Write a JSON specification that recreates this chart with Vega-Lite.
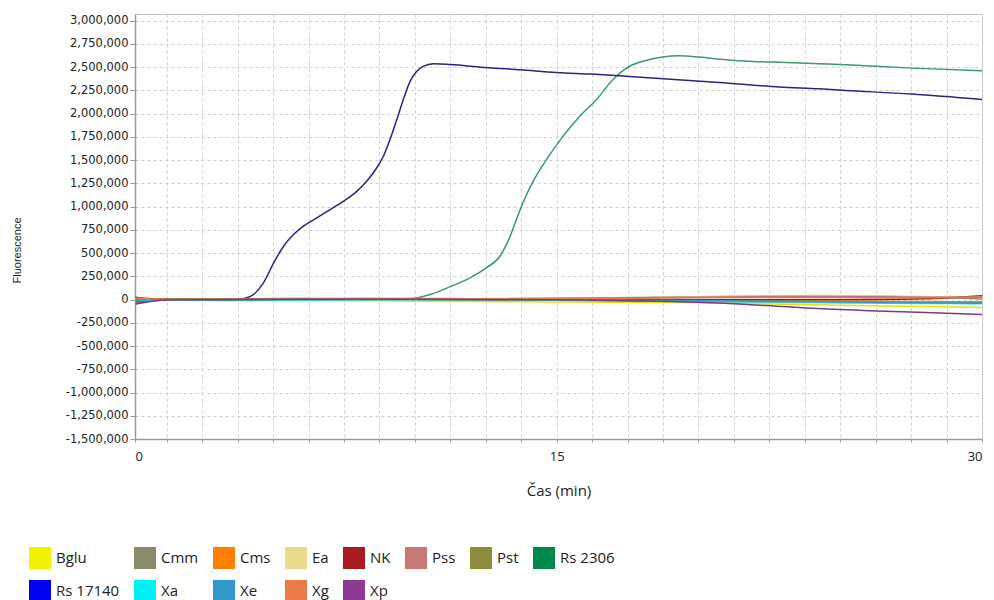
{
  "$schema": "https://vega.github.io/schema/vega-lite/v6.json",
  "autosize": {"type": "none"},
  "width": 847,
  "height": 425,
  "padding": {"left": 135, "top": 14, "right": 12, "bottom": 161},
  "background": "white",
  "config": {
    "view": {"stroke": "#C4C4C4", "strokeWidth": 1},
    "axis": {"gridDash": [3, 3], "gridColor": "#CFCFCF", "gridWidth": 1, "domainColor": "#9A9A9A", "domainWidth": 1.5, "tickColor": "#9A9A9A", "labelColor": "#222222", "titleColor": "#222222", "titleFontWeight": "normal"}
  },
  "data": {"values": [
    {"s":"Bglu","t":0.15,"v":-5000},{"s":"Bglu","t":0.6,"v":-3000},{"s":"Bglu","t":1.2,"v":-2000},{"s":"Bglu","t":2,"v":-3000},{"s":"Bglu","t":3,"v":-5000},{"s":"Bglu","t":4,"v":-6000},{"s":"Bglu","t":6,"v":-8000},{"s":"Bglu","t":8,"v":-12000},{"s":"Bglu","t":10,"v":-18000},{"s":"Bglu","t":12,"v":-22000},{"s":"Bglu","t":14,"v":-25000},{"s":"Bglu","t":16,"v":-28000},{"s":"Bglu","t":18,"v":-30000},{"s":"Bglu","t":20,"v":-35000},{"s":"Bglu","t":22,"v":-45000},{"s":"Bglu","t":24,"v":-56000},{"s":"Bglu","t":26,"v":-66000},{"s":"Bglu","t":28,"v":-75000},{"s":"Bglu","t":29,"v":-80000},{"s":"Bglu","t":30,"v":-85000},
    {"s":"Cmm","t":0.15,"v":-20000},{"s":"Cmm","t":0.6,"v":-8000},{"s":"Cmm","t":1.2,"v":-2000},{"s":"Cmm","t":2,"v":0},{"s":"Cmm","t":3,"v":2000},{"s":"Cmm","t":4,"v":3000},{"s":"Cmm","t":6,"v":5000},{"s":"Cmm","t":8,"v":6000},{"s":"Cmm","t":10,"v":6000},{"s":"Cmm","t":12,"v":8000},{"s":"Cmm","t":14,"v":10000},{"s":"Cmm","t":16,"v":15000},{"s":"Cmm","t":18,"v":22000},{"s":"Cmm","t":20,"v":30000},{"s":"Cmm","t":22,"v":36000},{"s":"Cmm","t":24,"v":38000},{"s":"Cmm","t":26,"v":35000},{"s":"Cmm","t":28,"v":25000},{"s":"Cmm","t":29,"v":15000},{"s":"Cmm","t":30,"v":5000},
    {"s":"Cms","t":0.15,"v":10000},{"s":"Cms","t":0.6,"v":5000},{"s":"Cms","t":1.2,"v":2000},{"s":"Cms","t":2,"v":0},{"s":"Cms","t":3,"v":0},{"s":"Cms","t":4,"v":2000},{"s":"Cms","t":6,"v":3000},{"s":"Cms","t":8,"v":2000},{"s":"Cms","t":10,"v":0},{"s":"Cms","t":12,"v":-2000},{"s":"Cms","t":14,"v":-5000},{"s":"Cms","t":16,"v":-8000},{"s":"Cms","t":18,"v":-10000},{"s":"Cms","t":20,"v":-12000},{"s":"Cms","t":22,"v":-15000},{"s":"Cms","t":24,"v":-18000},{"s":"Cms","t":26,"v":-20000},{"s":"Cms","t":28,"v":-22000},{"s":"Cms","t":29,"v":-23000},{"s":"Cms","t":30,"v":-25000},
    {"s":"Ea","t":0.15,"v":5000},{"s":"Ea","t":0.6,"v":3000},{"s":"Ea","t":1.2,"v":0},{"s":"Ea","t":2,"v":1000},{"s":"Ea","t":3,"v":2000},{"s":"Ea","t":4,"v":3000},{"s":"Ea","t":6,"v":3000},{"s":"Ea","t":8,"v":3000},{"s":"Ea","t":10,"v":2000},{"s":"Ea","t":12,"v":4000},{"s":"Ea","t":14,"v":8000},{"s":"Ea","t":16,"v":14000},{"s":"Ea","t":18,"v":22000},{"s":"Ea","t":20,"v":30000},{"s":"Ea","t":22,"v":38000},{"s":"Ea","t":24,"v":42000},{"s":"Ea","t":26,"v":40000},{"s":"Ea","t":28,"v":32000},{"s":"Ea","t":29,"v":26000},{"s":"Ea","t":30,"v":20000},
    {"s":"NK","t":0.15,"v":25000},{"s":"NK","t":0.6,"v":10000},{"s":"NK","t":1.2,"v":3000},{"s":"NK","t":2,"v":2000},{"s":"NK","t":3,"v":5000},{"s":"NK","t":4,"v":8000},{"s":"NK","t":6,"v":10000},{"s":"NK","t":8,"v":8000},{"s":"NK","t":10,"v":6000},{"s":"NK","t":12,"v":4000},{"s":"NK","t":14,"v":3000},{"s":"NK","t":16,"v":2000},{"s":"NK","t":18,"v":0},{"s":"NK","t":20,"v":-2000},{"s":"NK","t":22,"v":-3000},{"s":"NK","t":24,"v":-2000},{"s":"NK","t":26,"v":0},{"s":"NK","t":28,"v":8000},{"s":"NK","t":29,"v":22000},{"s":"NK","t":30,"v":40000},
    {"s":"Pss","t":0.15,"v":-35000},{"s":"Pss","t":0.6,"v":-15000},{"s":"Pss","t":1.2,"v":-3000},{"s":"Pss","t":2,"v":0},{"s":"Pss","t":3,"v":3000},{"s":"Pss","t":4,"v":5000},{"s":"Pss","t":6,"v":8000},{"s":"Pss","t":8,"v":10000},{"s":"Pss","t":10,"v":8000},{"s":"Pss","t":12,"v":6000},{"s":"Pss","t":14,"v":8000},{"s":"Pss","t":16,"v":12000},{"s":"Pss","t":18,"v":18000},{"s":"Pss","t":20,"v":25000},{"s":"Pss","t":22,"v":30000},{"s":"Pss","t":24,"v":32000},{"s":"Pss","t":26,"v":30000},{"s":"Pss","t":28,"v":25000},{"s":"Pss","t":29,"v":22000},{"s":"Pss","t":30,"v":20000},
    {"s":"Pst","t":0.15,"v":-45000},{"s":"Pst","t":0.6,"v":-20000},{"s":"Pst","t":1.2,"v":-5000},{"s":"Pst","t":2,"v":-2000},{"s":"Pst","t":3,"v":0},{"s":"Pst","t":4,"v":2000},{"s":"Pst","t":6,"v":4000},{"s":"Pst","t":8,"v":3000},{"s":"Pst","t":10,"v":0},{"s":"Pst","t":12,"v":-3000},{"s":"Pst","t":14,"v":-6000},{"s":"Pst","t":16,"v":-10000},{"s":"Pst","t":18,"v":-15000},{"s":"Pst","t":20,"v":-20000},{"s":"Pst","t":22,"v":-24000},{"s":"Pst","t":24,"v":-28000},{"s":"Pst","t":26,"v":-32000},{"s":"Pst","t":28,"v":-35000},{"s":"Pst","t":29,"v":-36000},{"s":"Pst","t":30,"v":-38000},
    {"s":"Rs 2306","t":0.15,"v":5000},{"s":"Rs 2306","t":0.6,"v":2000},{"s":"Rs 2306","t":1.2,"v":0},{"s":"Rs 2306","t":2,"v":2000},{"s":"Rs 2306","t":4,"v":3000},{"s":"Rs 2306","t":6,"v":5000},{"s":"Rs 2306","t":8,"v":5000},{"s":"Rs 2306","t":9.3,"v":6000},{"s":"Rs 2306","t":9.89,"v":10700},{"s":"Rs 2306","t":10.53,"v":53700},{"s":"Rs 2306","t":11.23,"v":136000},{"s":"Rs 2306","t":11.94,"v":233000},{"s":"Rs 2306","t":12.52,"v":340000},{"s":"Rs 2306","t":13.0,"v":465000},{"s":"Rs 2306","t":13.29,"v":630000},{"s":"Rs 2306","t":13.58,"v":859000},{"s":"Rs 2306","t":13.81,"v":1039000},{"s":"Rs 2306","t":14.17,"v":1271000},{"s":"Rs 2306","t":14.64,"v":1504000},{"s":"Rs 2306","t":15.22,"v":1754000},{"s":"Rs 2306","t":15.81,"v":1969000},{"s":"Rs 2306","t":16.4,"v":2148000},{"s":"Rs 2306","t":16.98,"v":2363000},{"s":"Rs 2306","t":17.57,"v":2508000},{"s":"Rs 2306","t":18.15,"v":2570000},{"s":"Rs 2306","t":18.74,"v":2607000},{"s":"Rs 2306","t":19.33,"v":2621000},{"s":"Rs 2306","t":20.03,"v":2607000},{"s":"Rs 2306","t":20.97,"v":2578000},{"s":"Rs 2306","t":21.91,"v":2560000},{"s":"Rs 2306","t":23.08,"v":2549000},{"s":"Rs 2306","t":24.25,"v":2535000},{"s":"Rs 2306","t":25.19,"v":2524000},{"s":"Rs 2306","t":27.54,"v":2488000},{"s":"Rs 2306","t":30,"v":2460000},
    {"s":"Rs 17140","t":0.15,"v":-15000},{"s":"Rs 17140","t":0.6,"v":-8000},{"s":"Rs 17140","t":1.2,"v":-3000},{"s":"Rs 17140","t":2,"v":-5000},{"s":"Rs 17140","t":3,"v":-8000},{"s":"Rs 17140","t":3.6,"v":-6000},{"s":"Rs 17140","t":3.96,"v":7500},{"s":"Rs 17140","t":4.31,"v":53700},{"s":"Rs 17140","t":4.66,"v":179000},{"s":"Rs 17140","t":5.02,"v":394000},{"s":"Rs 17140","t":5.37,"v":573000},{"s":"Rs 17140","t":5.72,"v":698000},{"s":"Rs 17140","t":6.07,"v":788000},{"s":"Rs 17140","t":6.54,"v":877000},{"s":"Rs 17140","t":7.01,"v":967000},{"s":"Rs 17140","t":7.48,"v":1056000},{"s":"Rs 17140","t":7.95,"v":1163000},{"s":"Rs 17140","t":8.3,"v":1271000},{"s":"Rs 17140","t":8.65,"v":1414000},{"s":"Rs 17140","t":8.89,"v":1540000},{"s":"Rs 17140","t":9.12,"v":1719000},{"s":"Rs 17140","t":9.36,"v":1933000},{"s":"Rs 17140","t":9.59,"v":2148000},{"s":"Rs 17140","t":9.83,"v":2345000},{"s":"Rs 17140","t":10.06,"v":2452000},{"s":"Rs 17140","t":10.29,"v":2506000},{"s":"Rs 17140","t":10.65,"v":2535000},{"s":"Rs 17140","t":11.12,"v":2531000},{"s":"Rs 17140","t":11.7,"v":2517000},{"s":"Rs 17140","t":12.49,"v":2495000},{"s":"Rs 17140","t":13.73,"v":2470000},{"s":"Rs 17140","t":14.99,"v":2441000},{"s":"Rs 17140","t":16.23,"v":2424000},{"s":"Rs 17140","t":17.57,"v":2399000},{"s":"Rs 17140","t":20.73,"v":2334000},{"s":"Rs 17140","t":22.85,"v":2285000},{"s":"Rs 17140","t":24.25,"v":2265000},{"s":"Rs 17140","t":25.19,"v":2248000},{"s":"Rs 17140","t":27.52,"v":2209000},{"s":"Rs 17140","t":30,"v":2150000},
    {"s":"Xa","t":0.15,"v":-10000},{"s":"Xa","t":0.6,"v":-8000},{"s":"Xa","t":1.2,"v":-5000},{"s":"Xa","t":2,"v":-6000},{"s":"Xa","t":3,"v":-10000},{"s":"Xa","t":4,"v":-12000},{"s":"Xa","t":6,"v":-8000},{"s":"Xa","t":8,"v":-5000},{"s":"Xa","t":10,"v":-3000},{"s":"Xa","t":12,"v":-2000},{"s":"Xa","t":14,"v":-4000},{"s":"Xa","t":16,"v":-8000},{"s":"Xa","t":18,"v":-14000},{"s":"Xa","t":20,"v":-20000},{"s":"Xa","t":22,"v":-26000},{"s":"Xa","t":24,"v":-32000},{"s":"Xa","t":26,"v":-38000},{"s":"Xa","t":28,"v":-42000},{"s":"Xa","t":29,"v":-44000},{"s":"Xa","t":30,"v":-46000},
    {"s":"Xe","t":0.15,"v":-5000},{"s":"Xe","t":0.6,"v":-3000},{"s":"Xe","t":1.2,"v":-1000},{"s":"Xe","t":2,"v":-2000},{"s":"Xe","t":3,"v":-3000},{"s":"Xe","t":4,"v":-2000},{"s":"Xe","t":6,"v":0},{"s":"Xe","t":8,"v":2000},{"s":"Xe","t":10,"v":3000},{"s":"Xe","t":12,"v":2000},{"s":"Xe","t":14,"v":0},{"s":"Xe","t":16,"v":-3000},{"s":"Xe","t":18,"v":-7000},{"s":"Xe","t":20,"v":-12000},{"s":"Xe","t":22,"v":-18000},{"s":"Xe","t":24,"v":-24000},{"s":"Xe","t":26,"v":-30000},{"s":"Xe","t":28,"v":-35000},{"s":"Xe","t":29,"v":-38000},{"s":"Xe","t":30,"v":-40000},
    {"s":"Xg","t":0.15,"v":15000},{"s":"Xg","t":0.6,"v":8000},{"s":"Xg","t":1.2,"v":3000},{"s":"Xg","t":2,"v":2000},{"s":"Xg","t":3,"v":3000},{"s":"Xg","t":4,"v":5000},{"s":"Xg","t":6,"v":8000},{"s":"Xg","t":8,"v":10000},{"s":"Xg","t":10,"v":10000},{"s":"Xg","t":12,"v":9000},{"s":"Xg","t":14,"v":10000},{"s":"Xg","t":16,"v":12000},{"s":"Xg","t":18,"v":16000},{"s":"Xg","t":20,"v":20000},{"s":"Xg","t":22,"v":22000},{"s":"Xg","t":24,"v":22000},{"s":"Xg","t":26,"v":20000},{"s":"Xg","t":28,"v":18000},{"s":"Xg","t":29,"v":24000},{"s":"Xg","t":30,"v":30000},
    {"s":"Xp","t":0.15,"v":-50000},{"s":"Xp","t":0.6,"v":-25000},{"s":"Xp","t":1.2,"v":-5000},{"s":"Xp","t":2,"v":-3000},{"s":"Xp","t":3,"v":-2000},{"s":"Xp","t":4,"v":0},{"s":"Xp","t":6,"v":2000},{"s":"Xp","t":8,"v":3000},{"s":"Xp","t":10,"v":2000},{"s":"Xp","t":12,"v":0},{"s":"Xp","t":14,"v":-2000},{"s":"Xp","t":16,"v":-5000},{"s":"Xp","t":18,"v":-15000},{"s":"Xp","t":20,"v":-30000},{"s":"Xp","t":22,"v":-58000},{"s":"Xp","t":24,"v":-95000},{"s":"Xp","t":26,"v":-120000},{"s":"Xp","t":28,"v":-140000},{"s":"Xp","t":29,"v":-150000},{"s":"Xp","t":30,"v":-160000}
  ]},
  "encoding": {
    "x": {"field": "t", "type": "quantitative",
      "scale": {"domain": [0.13, 30], "nice": false, "zero": false},
      "axis": {"title": "Čas (min)", "titleFont": "Open Sans", "titleFontSize": 15, "titleY": 51, "titleBaseline": "middle",
        "values": [0.13,1.25,2.5,3.75,5,6.25,7.5,8.75,10,11.25,12.5,13.75,15,16.25,17.5,18.75,20,21.25,22.5,23.75,25,26.25,27.5,28.75,30],
        "labelExpr": "datum.value < 1 ? '0' : (datum.value == 15 || datum.value == 30) ? format(datum.value, 'd') : ''",
        "labelFont": "Open Sans", "labelFontSize": 13, "tickSize": 3, "labelPadding": 8, "labelOverlap": false}},
    "y": {"field": "v", "type": "quantitative",
      "scale": {"domain": [-1500000, 3070000], "nice": false, "zero": false},
      "axis": {"title": "Fluorescence", "titleFont": "Liberation Sans", "titleFontSize": 11, "titleX": -118, "titleY": 236, "titleAngle": 270, "titleBaseline": "middle", "titleAlign": "center",
        "values": [-1500000,-1250000,-1000000,-750000,-500000,-250000,0,250000,500000,750000,1000000,1250000,1500000,1750000,2000000,2250000,2500000,2750000,3000000],
        "labelExpr": "replace(format(datum.value, ','), '\u2212', '-')",
        "labelFont": "DejaVu Sans", "labelFontSize": 11.5, "tickSize": 5, "labelPadding": 2, "labelOverlap": false}}
  },
  "layer": [
    {
      "mark": {"type": "line", "strokeWidth": 1.5, "interpolate": "monotone", "clip": true},
      "encoding": {
        "stroke": {"field": "s", "type": "nominal", "legend": null,
          "scale": {"domain": ["Bglu","Cmm","Cms","Ea","NK","Pss","Pst","Xa","Xe","Xg","Xp","Rs 2306","Rs 17140"],
            "range": ["#E4E400","#8A8A70","#FF8000","#E0D080","#9E1A1A","#C07070","#7E7E3A","#20E0E0","#3399CC","#E07848","#7A3A8A","#3A9A6A","#262686"]}}
      }
    },
    {
      "transform": [{"filter": "datum.t == 0.15"}],
      "mark": {"type": "point", "filled": true, "opacity": 0, "shape": "square"},
      "encoding": {
        "fill": {"field": "s", "type": "nominal",
          "scale": {"domain": ["Bglu","Cmm","Cms","Ea","NK","Pss","Pst","Rs 2306","Rs 17140","Xa","Xe","Xg","Xp"],
            "range": ["#F0F000","#8A8A6E","#FF8000","#E9D98A","#AA1A20","#C87676","#8C8C3A","#00874A","#0000F0","#00F0F8","#3399CC","#EC7A48","#8C3A96"]},
          "legend": {"title": null, "orient": "none", "legendX": -106, "legendY": 533, "direction": "horizontal", "columns": 8, "padding": 0,
            "symbolType": "square", "symbolSize": 484, "symbolStrokeWidth": 0, "symbolOpacity": 1,
            "labelFont": "Open Sans", "labelFontSize": 15, "labelColor": "#222222", "labelOffset": 5, "columnPadding": 14, "rowPadding": 11, "labelLimit": 200}}
      }
    }
  ]
}
